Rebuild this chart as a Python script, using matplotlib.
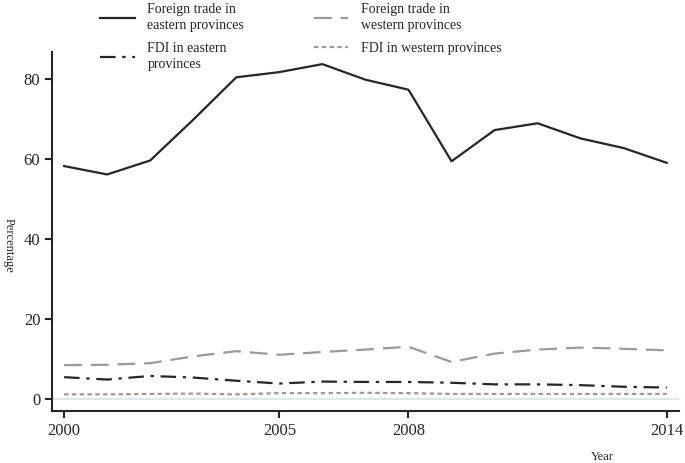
import matplotlib
matplotlib.use("Agg")
import matplotlib.pyplot as plt

years = list(range(2000, 2015))
trade_east = [58.3, 56.2, 59.7, 69.9, 80.5, 81.8, 83.8, 79.9, 77.4, 59.5, 67.3, 69.0, 65.2, 62.8, 59.1]
trade_west = [8.5, 8.6, 9.0, 10.7, 12.0, 11.1, 11.8, 12.4, 13.1, 9.3, 11.4, 12.4, 12.9, 12.6, 12.2]
fdi_east = [5.5, 4.9, 5.8, 5.4, 4.6, 3.9, 4.4, 4.3, 4.3, 4.1, 3.7, 3.7, 3.5, 3.1, 2.9]
fdi_west = [1.2, 1.2, 1.3, 1.4, 1.2, 1.5, 1.5, 1.6, 1.5, 1.3, 1.3, 1.3, 1.3, 1.3, 1.3]
xticks = [2000, 2005, 2008, 2014]
yticks = [0, 20, 40, 60, 80]

plt.rcParams['font.family'] = ['Liberation Serif', 'DejaVu Serif']

fig = plt.figure(figsize=(6.85, 4.63), dpi=100)
ax = fig.add_axes([0.076, 0.112, 0.915, 0.775])

dark = '#262626'
grey = '#9a9a9a'
ax.axhline(0, color='#dde8ee', lw=1.5, zorder=1)
l1, = ax.plot(years, trade_east, color=dark, lw=1.6, label='Foreign trade in\neastern provinces')
l2, = ax.plot(years, fdi_east, color=dark, lw=1.6, dashes=(7, 3, 1.5, 3),
              label='FDI in eastern\nprovinces')
l3, = ax.plot(years, trade_west, color=grey, lw=1.6, dashes=(8, 4),
              label='Foreign trade in\nwestern provinces')
l4, = ax.plot(years, fdi_west, color=grey, lw=1.6, dashes=(2, 1.5),
              label='FDI in western provinces')

ax.set_xlim(1999.72, 2014.28)
ax.set_ylim(-3, 86.75)
ax.set_xticks(xticks)
ax.set_yticks(yticks)
ax.tick_params(labelsize=12, width=1.5, length=5, color=dark, labelcolor=dark)
for s in ['top', 'right']:
    ax.spines[s].set_visible(False)
for s in ['left', 'bottom']:
    ax.spines[s].set_linewidth(1.5)
    ax.spines[s].set_color(dark)

fig.text(0.012, 0.47, 'Percentage', rotation=270, fontsize=9, color=dark,
         ha='center', va='center')
fig.text(0.88, 0.0, 'Year', fontsize=9, color=dark, ha='center', va='bottom')

leg = fig.legend(handles=[l1, l2, l3, l4], ncol=2, frameon=False, fontsize=10,
                 loc='upper left', bbox_to_anchor=(0.128, 1.02), handlelength=2.5,
                 columnspacing=5.0, labelspacing=0.75, handletextpad=0.9,
                 labelcolor=dark)
for t in leg.get_texts():
    t.set_linespacing(1.25)

fig.savefig('out.png', dpi=100)
